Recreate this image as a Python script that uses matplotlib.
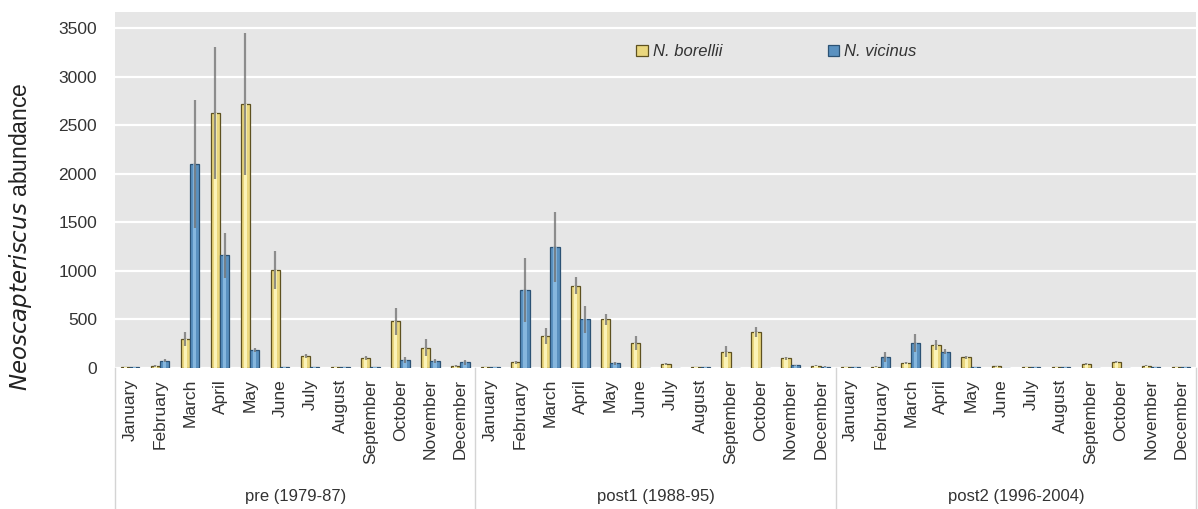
import numpy as np
import matplotlib
matplotlib.use("Agg")
import matplotlib.pyplot as plt
from matplotlib.transforms import blended_transform_factory

plt.rcParams['font.family'] = ['Liberation Sans', 'DejaVu Sans']

months = ["January", "February", "March", "April", "May", "June", "July",
          "August", "September", "October", "November", "December"]
periods = ["pre (1979-87)", "post1 (1988-95)", "post2 (1996-2004)"]

borellii = [8, 25, 300, 2630, 2720, 1010, 120, 8, 100, 480, 210, 25,
            8, 60, 330, 850, 500, 260, 40, 8, 170, 370, 100, 25,
            8, 15, 50, 240, 110, 20, 8, 8, 40, 60, 25, 8]
borellii_err = [0, 10, 70, 680, 730, 200, 20, 0, 20, 140, 90, 10,
                0, 15, 80, 90, 60, 70, 10, 0, 60, 50, 15, 5,
                0, 5, 10, 50, 15, 5, 0, 0, 10, 10, 5, 0]
vicinus = [8, 75, 2100, 1160, 190, 8, 8, 8, 10, 80, 70, 60,
           8, 800, 1250, 500, 50, 5, 5, 8, 5, 5, 30, 15,
           8, 110, 260, 170, 8, 5, 8, 8, 5, 5, 8, 8]
vicinus_err = [0, 15, 660, 230, 20, 0, 0, 0, 0, 30, 20, 25,
               0, 330, 360, 140, 15, 0, 0, 0, 0, 0, 5, 5,
               0, 50, 90, 30, 0, 0, 0, 0, 0, 0, 0, 0]

fig = plt.figure(figsize=(11.98, 5.09), dpi=100)
L, R, T, B = 115, 1196, 12, 368
W, H = 1198, 509
ax = fig.add_axes([L / W, 1 - B / H, (R - L) / W, (B - T) / H])

n = len(borellii)
x = np.arange(n)
bw = 0.31

ax.set_facecolor("#E6E6E6")
ax.set_axisbelow(True)
ax.yaxis.grid(True, color="white", linewidth=1.6)

y_col, y_hi, y_edge = "#EAD77E", "#FBF3B8", "#5E5120"
b_col, b_hi, b_edge = "#5A91C0", "#86B7DE", "#2C5274"

bars_y = ax.bar(x - bw / 2, borellii, width=bw, color=y_col, edgecolor=y_edge,
                linewidth=0.9, label="N. borellii", zorder=2)
ax.bar(x - bw / 2, borellii, width=bw * 0.35, color=y_hi, linewidth=0, zorder=2.1)
bars_b = ax.bar(x + bw / 2, vicinus, width=bw, color=b_col, edgecolor=b_edge,
                linewidth=0.9, label="N. vicinus", zorder=2)
ax.bar(x + bw / 2, vicinus, width=bw * 0.35, color=b_hi, linewidth=0, zorder=2.1)

ax.errorbar(x - bw / 2, borellii, yerr=borellii_err, fmt="none", ecolor="#6E6E6E",
            elinewidth=1.6, capsize=0, alpha=0.75, zorder=3)
ax.errorbar(x + bw / 2, vicinus, yerr=vicinus_err, fmt="none", ecolor="#6E6E6E",
            elinewidth=1.6, capsize=0, alpha=0.75, zorder=3)

ax.set_xlim(-0.5, n - 0.5)
ax.set_ylim(0, 3670)
ax.set_yticks(np.arange(0, 3501, 500))
ax.tick_params(axis="y", length=0, pad=13, labelsize=12.5, labelcolor="#333333")
ax.set_xticks(x)
ax.set_xticklabels(months * 3, rotation=90, fontsize=12.5, color="#333333")
ax.tick_params(axis="x", length=0, pad=8)
for s in ax.spines.values():
    s.set_visible(False)

ax.set_ylabel(r"$\it{Neoscapteriscus}$ abundance", fontsize=16.5, color="#222222")
ax.yaxis.set_label_coords(-0.075, 0.37)

# label area box and separators
trans = blended_transform_factory(ax.transData, ax.transAxes)
bottom_ax = -(H - B) / (B - T)
for xb in [-0.5, 11.5, 23.5, 35.5]:
    ax.plot([xb, xb], [0, bottom_ax], transform=trans, color="#D4D4D4",
            linewidth=1.0, clip_on=False, zorder=1)
for i, p in enumerate(periods):
    ax.text(i * 12 + 5.5, -(497 - B) / (B - T), p, transform=trans,
            ha="center", va="center", fontsize=12, color="#333333")

leg = ax.legend(handles=[bars_y, bars_b], loc="center left",
                bbox_to_anchor=(0.4685, 0.888), ncol=2, frameon=False,
                handlelength=0.7, handleheight=0.7, handletextpad=0.3,
                columnspacing=6.3, prop={"style": "italic", "size": 12})
for t in leg.get_texts():
    t.set_color("#333333")

fig.savefig("out.png", dpi=100, facecolor="white")
